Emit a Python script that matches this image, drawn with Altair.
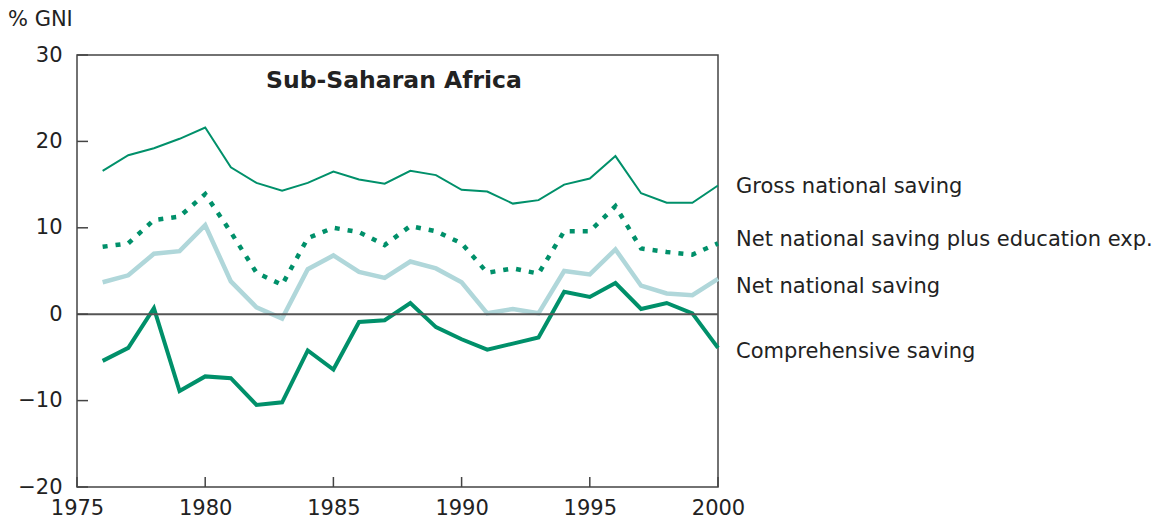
import altair as alt
import pandas as pd

years = list(range(1976, 2001))
gross = [16.6, 18.4, 19.2, 20.3, 21.6, 17.0, 15.2, 14.3, 15.2, 16.5, 15.6, 15.1, 16.6,
         16.1, 14.4, 14.2, 12.8, 13.2, 15.0, 15.7, 18.3, 14.0, 12.9, 12.9, 14.9]
net_edu = [7.8, 8.2, 10.9, 11.3, 13.9, 9.5, 4.8, 3.4, 8.8, 10.0, 9.5, 8.0, 10.2,
           9.6, 8.2, 4.8, 5.3, 4.7, 9.6, 9.6, 12.5, 7.6, 7.2, 6.9, 8.2]
net = [3.7, 4.5, 7.0, 7.3, 10.3, 3.8, 0.8, -0.5, 5.2, 6.8, 4.9, 4.2, 6.1,
       5.3, 3.7, 0.1, 0.6, 0.1, 5.0, 4.6, 7.5, 3.3, 2.4, 2.2, 4.1]
comp = [-5.4, -3.9, 0.7, -8.9, -7.2, -7.4, -10.5, -10.2, -4.2, -6.4, -0.9, -0.7, 1.3,
        -1.5, -2.9, -4.1, -3.4, -2.7, 2.6, 2.0, 3.6, 0.6, 1.3, 0.1, -3.9]

series_names = ["Gross national saving", "Net national saving plus education exp.",
                "Net national saving", "Comprehensive saving"]
label_y = [14.7, 8.6, 3.1, -4.4]
x_ticks = [1975, 1980, 1985, 1990, 1995, 2000]
y_ticks = [-20, -10, 0, 10, 20, 30]

GREEN = "#00906a"
LIGHT = "#b0d7da"
FONT = "DejaVu Sans"
TXT = "#222222"

rows = []
for name, vals in zip(series_names, [gross, net_edu, net, comp]):
    for yr, v in zip(years, vals):
        rows.append({"year": yr, "value": v, "series": name})
df = pd.DataFrame(rows)
labels_df = pd.DataFrame({"series": series_names, "y": label_y})

xs = alt.Scale(domain=[1975, 2000], nice=False, zero=False)
ys = alt.Scale(domain=[-20, 30], nice=False, zero=False)

xaxis = alt.Axis(values=x_ticks, format="d", title=None, labelPadding=10, domain=False,
                 ticks=False, grid=False, labelFont=FONT, labelFontSize=21, labelColor=TXT,
                 labelFlush=False, labelOverlap=False)
yaxis = alt.Axis(values=y_ticks, title=None, labelPadding=15, domain=False,
                 ticks=False, grid=False, labelFont=FONT, labelFontSize=21, labelColor=TXT,
                 labelFlush=False, labelOverlap=False)

def X(f):
    return alt.X(f, scale=xs, axis=xaxis, title=None)

def Y(f):
    return alt.Y(f, scale=ys, axis=yaxis, title=None)

base = alt.Chart(df).encode(x=X("year:Q"), y=Y("value:Q"))

def line(name, **kw):
    return base.transform_filter(alt.datum.series == name).mark_line(**kw)

gross_l = line(series_names[0], color=GREEN, strokeWidth=2)
edu_l = line(series_names[1], color=GREEN, strokeWidth=4.5, strokeDash=[5, 8])
net_l = line(series_names[2], color=LIGHT, strokeWidth=4.5)
comp_l = line(series_names[3], color=GREEN, strokeWidth=4)

zero = alt.Chart(pd.DataFrame({"value": [0]})).mark_rule(color="#555555", strokeWidth=2).encode(
    y=Y("value:Q"), x=alt.value(0), x2=alt.value(641))

yt = alt.Chart(pd.DataFrame({"value": y_ticks})).mark_rule(color="#444444", strokeWidth=1.5).encode(
    y=Y("value:Q"), x=alt.value(0), x2=alt.value(11))
xt = alt.Chart(pd.DataFrame({"year": x_ticks})).mark_rule(color="#444444", strokeWidth=1.5).encode(
    x=X("year:Q"), y=alt.value(432), y2=alt.value(422))

lbl = alt.Chart(labels_df).mark_text(align="left", baseline="middle", font=FONT,
                                     fontSize=21, color=TXT, dx=18).encode(
    x=alt.datum(2000), y=Y("y:Q"), text="series:N")

title = alt.Chart(pd.DataFrame({"t": ["Sub-Saharan Africa"]})).mark_text(
    align="center", baseline="alphabetic", font=FONT, fontSize=23.5, fontWeight="bold",
    color=TXT).encode(x=alt.value(317), y=alt.value(33), text="t:N")

unit = alt.Chart(pd.DataFrame({"t": ["% GNI"]})).mark_text(
    align="left", baseline="alphabetic", font=FONT, fontSize=21, color=TXT).encode(
    x=alt.value(-69), y=alt.value(-29), text="t:N")

chart = alt.layer(gross_l, edu_l, net_l, comp_l, zero, yt, xt, lbl, title, unit).properties(
    width=641, height=432,
    background="white",
    autosize=alt.AutoSizeParams(type="none"),
    padding={"left": 69, "top": 47, "right": 436, "bottom": 35},
).configure_view(stroke="#444444", strokeWidth=1.5)

chart.save("out.html", embed_options={"renderer": "svg", "actions": False})
